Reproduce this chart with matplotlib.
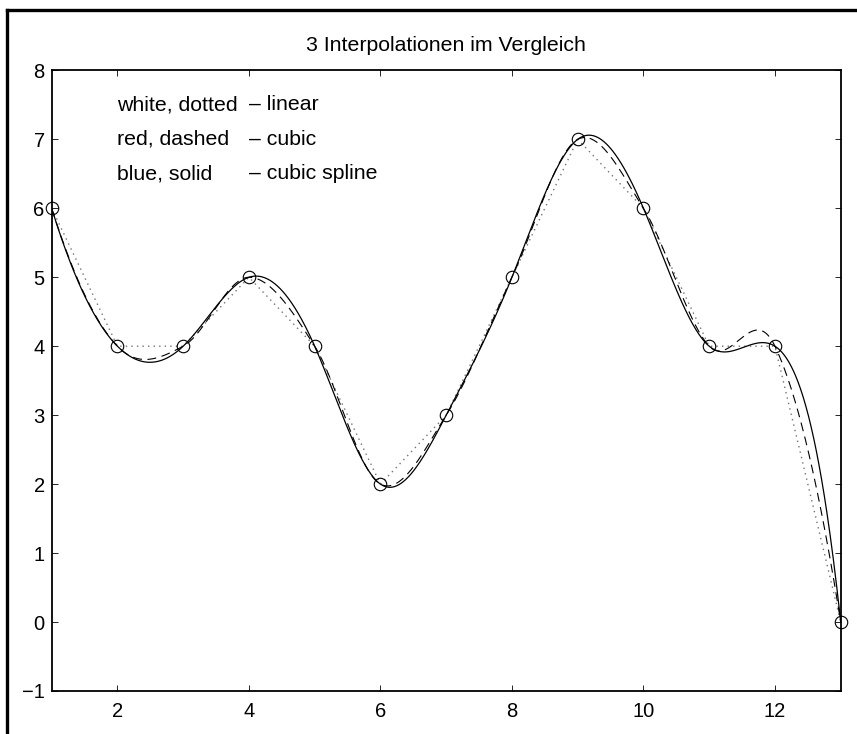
import numpy as np
import matplotlib
matplotlib.use('Agg')
from matplotlib import pyplot as plt
from matplotlib.lines import Line2D

plt.rcParams['font.family'] = ['Liberation Sans', 'DejaVu Sans']

# data points
x_pts = np.arange(1, 14)
y_pts = np.array([6, 4, 4, 5, 4, 2, 3, 5, 7, 6, 4, 4, 0], dtype=float)

title = '3 Interpolationen im Vergleich'
note_left = ['white, dotted', 'red, dashed', 'blue, solid']
note_right = ['\u2013 linear', '\u2013 cubic', '\u2013 cubic spline']
note_y = [7.5, 7.0, 6.5]


def spline_notaknot(x, y, xq):
    # piecewise cubic s_i(t) = a + b t + c t^2 + d t^3, not-a-knot ends
    n = len(x)
    m = n - 1
    h = np.diff(x)
    A = np.zeros((4 * m, 4 * m))
    r = np.zeros(4 * m)
    row = 0
    for i in range(m):
        A[row, 4 * i] = 1
        r[row] = y[i]
        row += 1
        A[row, 4 * i:4 * i + 4] = [1, h[i], h[i] ** 2, h[i] ** 3]
        r[row] = y[i + 1]
        row += 1
    for i in range(m - 1):
        A[row, 4 * i:4 * i + 4] = [0, 1, 2 * h[i], 3 * h[i] ** 2]
        A[row, 4 * (i + 1) + 1] = -1
        row += 1
        A[row, 4 * i:4 * i + 4] = [0, 0, 2, 6 * h[i]]
        A[row, 4 * (i + 1) + 2] = -2
        row += 1
    A[row, 3] = 1
    A[row, 7] = -1
    row += 1
    A[row, 4 * (m - 2) + 3] = 1
    A[row, 4 * (m - 1) + 3] = -1
    coef = np.linalg.solve(A, r).reshape(m, 4)
    idx = np.clip(np.searchsorted(x, xq, side='right') - 1, 0, m - 1)
    t = xq - x[idx]
    c = coef[idx]
    return c[:, 0] + c[:, 1] * t + c[:, 2] * t ** 2 + c[:, 3] * t ** 3


def cubic_conv(x, y, xq):
    # cubic convolution (Keys) on equally spaced points
    n = len(y)
    yl = 3 * y[0] - 3 * y[1] + y[2]
    yr = 3 * y[-1] - 3 * y[-2] + y[-3]
    ye = np.concatenate([[yl], y, [yr]])
    m = (ye[2:] - ye[:-2]) / 2
    idx = np.clip(np.searchsorted(x, xq, side='right') - 1, 0, n - 2)
    t = xq - x[idx]
    h00 = 2 * t ** 3 - 3 * t ** 2 + 1
    h10 = t ** 3 - 2 * t ** 2 + t
    h01 = -2 * t ** 3 + 3 * t ** 2
    h11 = t ** 3 - t ** 2
    return h00 * y[idx] + h10 * m[idx] + h01 * y[idx + 1] + h11 * m[idx + 1]


xi = np.linspace(x_pts[0], x_pts[-1], 1200)
y_lin = np.interp(xi, x_pts, y_pts)
y_cub = cubic_conv(x_pts.astype(float), y_pts, xi)
y_spl = spline_notaknot(x_pts.astype(float), y_pts, xi)

fig = plt.figure(figsize=(8.57, 7.34), dpi=100)
ax = fig.add_axes([0.0603, 0.0586, 0.9207, 0.8455])

ax.plot(xi, y_lin, color='0.45', lw=1.0, linestyle=(0, (1, 3)))
ax.plot(xi, y_cub, color='k', lw=0.8, linestyle=(0, (8, 5)))
ax.plot(xi, y_spl, color='k', lw=0.9)
ax.plot(x_pts, y_pts, 'o', mfc='none', mec='k', ms=9, mew=0.8, clip_on=False)

ax.set_xlim(1, 13)
ax.set_ylim(-1, 8)
ax.set_xticks(range(2, 13, 2))
ax.set_yticks(range(-1, 9))
ax.tick_params(direction='in', top=True, right=True, length=4, width=0.6,
               labelsize=14.5)
ax.tick_params(axis='x', pad=8)
ax.tick_params(axis='y', pad=5)
for s in ax.spines.values():
    s.set_linewidth(1.3)

ax.set_title(title, fontsize=15.3, pad=14)
for left, right, yy in zip(note_left, note_right, note_y):
    ax.text(2, yy, left, fontsize=15.3, va='center', ha='left')
    ax.text(4, yy, right, fontsize=15.3, va='center', ha='left')

# frame along top and left edge of the figure
fig.add_artist(Line2D([0.008, 0.008], [0, 0.987], color='k', lw=2.4,
                      transform=fig.transFigure))
fig.add_artist(Line2D([0.008, 1.0], [0.986, 0.986], color='k', lw=2.4,
                      transform=fig.transFigure))

fig.savefig('out.png', dpi=100)
